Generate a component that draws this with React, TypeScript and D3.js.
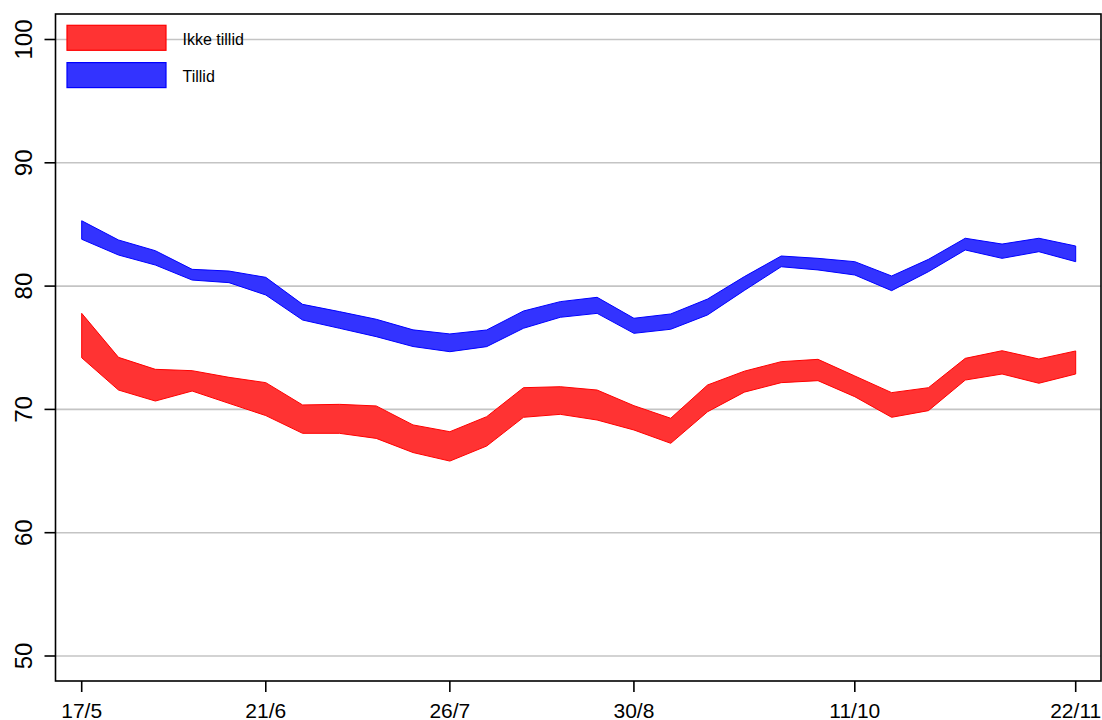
import React from 'react';
import * as d3 from 'd3';

// weekly survey dates (day/month)
const weeks = [
  '17/5', '24/5', '31/5', '7/6', '14/6', '21/6', '28/6', '5/7', '12/7', '19/7',
  '26/7', '2/8', '9/8', '16/8', '23/8', '30/8', '6/9', '13/9', '20/9', '27/9',
  '4/10', '11/10', '18/10', '25/10', '1/11', '8/11', '15/11', '22/11'
];

const tickLabels = ['17/5', '21/6', '26/7', '30/8', '11/10', '22/11'];
const yTicks = [50, 60, 70, 80, 90, 100];

// confidence bands
const tillidHi = [85.3, 83.74, 82.87, 81.36, 81.22, 80.71, 78.52, 77.93, 77.31, 76.45, 76.12, 76.44, 77.98, 78.74, 79.09, 77.39, 77.74, 78.95, 80.77, 82.44, 82.25, 81.98, 80.82, 82.17, 83.88, 83.41, 83.88, 83.25];
const tillidLo = [83.8, 82.52, 81.71, 80.49, 80.28, 79.28, 77.25, 76.58, 75.9, 75.1, 74.68, 75.09, 76.58, 77.47, 77.79, 76.17, 76.5, 77.66, 79.65, 81.57, 81.31, 80.9, 79.63, 81.17, 82.93, 82.25, 82.79, 81.98];

const ikkeHi = [77.79, 74.22, 73.25, 73.14, 72.6, 72.17, 70.36, 70.41, 70.28, 68.74, 68.19, 69.41, 71.76, 71.84, 71.57, 70.3, 69.28, 71.98, 73.1, 73.87, 74.06, 72.71, 71.36, 71.76, 74.14, 74.76, 74.09, 74.74];
const ikkeLo = [74.19, 71.57, 70.68, 71.49, 70.49, 69.5, 68.06, 68.06, 67.65, 66.5, 65.81, 67.03, 69.36, 69.6, 69.14, 68.33, 67.25, 69.81, 71.4, 72.17, 72.33, 71.03, 69.36, 69.9, 72.38, 72.87, 72.12, 72.87];

const W = 1102;
const H = 720;
const frame = { left: 55.5, right: 1101, top: 14, bottom: 681 };
const font = '"Liberation Sans", Arial, sans-serif';

const parse = d3.timeParse('%d/%m/%Y');
const toDate = (s: string) => parse(s + '/2020') as Date;

const App: React.FC = () => {
  const dates = weeks.map(toDate);

  const x = d3.scaleTime()
    .domain([dates[0], dates[dates.length - 1]])
    .range([81.7, 1075.7]);
  const y = d3.scaleLinear().domain([50, 100]).range([656, 39.5]);

  const area = (hi: number[], lo: number[]) =>
    d3.area<number>()
      .x((_, i) => x(dates[i]))
      .y0((_, i) => y(lo[i]))
      .y1(d => y(d))(hi) as string;

  const series = [
    { name: 'Ikke tillid', hi: ikkeHi, lo: ikkeLo, fill: '#ff3333', stroke: '#ff0000' },
    { name: 'Tillid', hi: tillidHi, lo: tillidLo, fill: '#3333ff', stroke: '#0000ff' }
  ];

  return (
    <div style={{ position: 'absolute', left: 0, top: 0 }}>
      <svg width={W} height={H} style={{ display: 'block', background: '#fff' }}>
        {/* grid */}
        {yTicks.map(t => (
          <line key={'g' + t} x1={frame.left} x2={frame.right} y1={y(t)} y2={y(t)}
            stroke="#c4c4c4" strokeWidth={1.6} />
        ))}

        {/* bands */}
        {series.map(s => (
          <path key={s.name} d={area(s.hi, s.lo)} fill={s.fill} stroke={s.stroke}
            strokeWidth={1} strokeLinejoin="round" />
        ))}

        {/* frame */}
        <rect x={frame.left} y={frame.top} width={frame.right - frame.left}
          height={frame.bottom - frame.top} fill="none" stroke="#000" strokeWidth={1.6} />

        {/* y axis */}
        {yTicks.map(t => (
          <g key={'y' + t}>
            <line x1={frame.left - 11} x2={frame.left} y1={y(t)} y2={y(t)} stroke="#000" strokeWidth={1.6} />
            <text transform={`translate(32,${y(t)}) rotate(-90)`} textAnchor="middle"
              fontFamily={font} fontSize={24} fill="#000">{t}</text>
          </g>
        ))}

        {/* x axis */}
        {tickLabels.map(l => (
          <g key={'x' + l}>
            <line x1={x(toDate(l))} x2={x(toDate(l))} y1={frame.bottom} y2={frame.bottom + 11}
              stroke="#000" strokeWidth={1.6} />
            <text x={x(toDate(l))} y={718} textAnchor="middle" fontFamily={font} fontSize={21}
              fill="#000">{l}</text>
          </g>
        ))}

        {/* legend */}
        {series.map((s, i) => (
          <g key={'l' + s.name} transform={`translate(0,${i * 37.3})`}>
            <rect x={67} y={25.3} width={99} height={25} fill={s.fill} stroke={s.stroke} strokeWidth={1.2} />
            <text x={182.5} y={44.5} fontFamily={font} fontSize={16} fill="#000">{s.name}</text>
          </g>
        ))}
      </svg>
    </div>
  );
};

export default App;
